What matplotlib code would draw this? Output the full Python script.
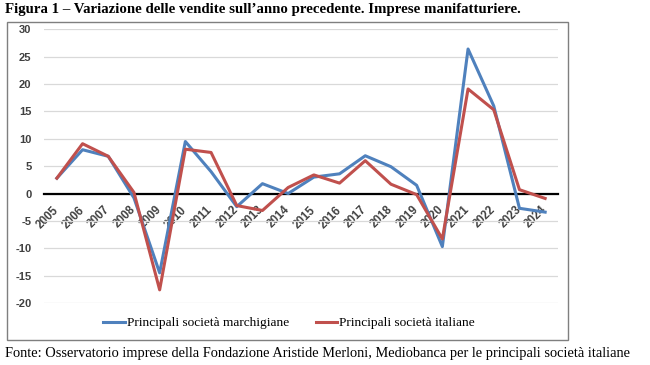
import matplotlib
matplotlib.use("Agg")
import matplotlib.pyplot as plt
from matplotlib.patches import Rectangle
from matplotlib.transforms import ScaledTranslation

# values
years = [str(y) for y in range(2005, 2025)]
marche = [2.8, 8.0, 6.8, -0.8, -14.5, 9.5, 4.0, -2.4, 1.8, 0.0,
          3.0, 3.6, 6.9, 4.9, 1.5, -9.7, 26.4, 16.0, -2.7, -3.4]
italia = [2.8, 9.1, 6.8, 0.2, -17.6, 8.1, 7.5, -2.2, -3.1, 1.1,
          3.4, 1.9, 6.0, 1.7, -0.2, -8.3, 19.1, 15.3, 0.7, -0.9]
y_ticks = [-20, -15, -10, -5, 0, 5, 10, 15, 20, 25, 30]

title = "Figura 1 \u2013 Variazione delle vendite sull\u2019anno precedente. Imprese manifatturiere."
source = "Fonte: Osservatorio imprese della Fondazione Aristide Merloni, Mediobanca per le principali societ\u00e0 italiane"

fig = plt.figure(figsize=(6.5, 3.65), dpi=100)
W, H = 650, 365

# outer chart frame
fig.patches.append(Rectangle((7 / W, 1 - 340 / H), 561 / W, 318 / H,
                             transform=fig.transFigure, fill=False,
                             edgecolor="#7f7f7f", linewidth=1.0))

ax = fig.add_axes([44 / W, 1 - 303 / H, 514 / W, 273.7 / H])
x = range(len(years))
ax.plot(x, marche, color="#4F81BD", linewidth=2.2, label="Principali societ\u00e0 marchigiane")
ax.plot(x, italia, color="#C0504D", linewidth=2.2, label="Principali societ\u00e0 italiane")

ax.set_xlim(-0.5, len(years) - 0.5)
ax.set_ylim(-20, 30)
ax.set_yticks(y_ticks)
ax.yaxis.grid(True, color="#d9d9d9", linewidth=0.9)
ax.set_axisbelow(True)
for s in ["top", "right", "left"]:
    ax.spines[s].set_visible(False)
ax.spines["bottom"].set_position(("data", 0))
ax.spines["bottom"].set_color("black")
ax.spines["bottom"].set_linewidth(1.6)
ax.spines["bottom"].set_zorder(1)

ax.set_xticks(list(x))
ax.set_xticklabels(years, rotation=45, ha="right", va="top",
                   fontsize=8.3, fontweight="bold", color="#404040",
                   family="Liberation Sans")
ax.set_yticklabels([str(v) for v in y_ticks], fontsize=8,
                   fontweight="bold", color="#404040", family="Liberation Sans")
ax.tick_params(axis="both", length=0)
ax.tick_params(axis="y", pad=9)
ax.tick_params(axis="x", pad=6)

# nudge the rotated year labels a little right, like the original
shift = ScaledTranslation(4 / 100, -2 / 100, fig.dpi_scale_trans)
for tick in ax.xaxis.get_major_ticks():
    tick.label1.set_transform(tick.label1.get_transform() + shift)

fig.legend(loc="center", bbox_to_anchor=(289 / W, 1 - 323 / H), ncol=2,
           frameon=False, handlelength=1.6, handletextpad=0.15,
           columnspacing=2.0,
           prop={"family": "Liberation Serif", "size": 9.6})

fig.text(5 / W, 1 - 10 / H, title, ha="left", va="center",
         family="Liberation Serif", fontweight="bold", fontsize=10.75)
fig.text(5 / W, 1 - 353 / H, source, ha="left", va="center",
         family="Liberation Serif", fontsize=10.4)

fig.savefig("out.png", dpi=100, facecolor="white")
